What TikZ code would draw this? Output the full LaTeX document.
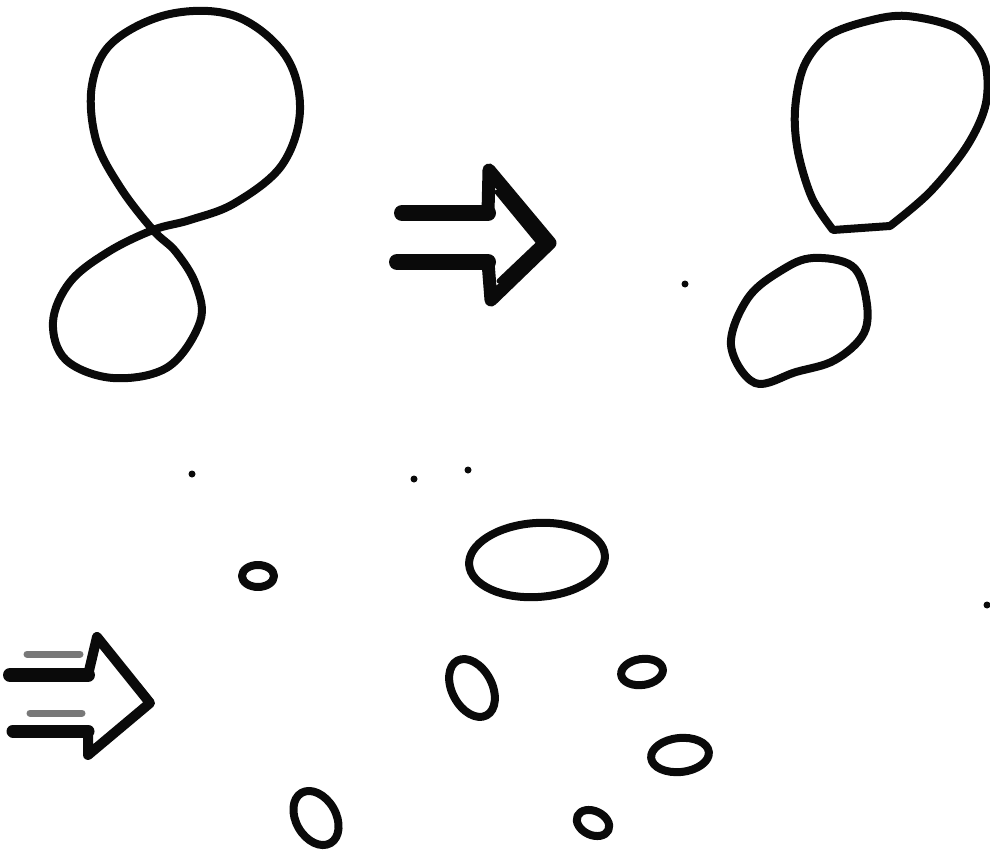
\documentclass[tikz,border=0pt]{standalone}
\usetikzlibrary{calc}
\definecolor{ink}{RGB}{10,10,10}
\definecolor{faint}{RGB}{120,120,120}
\tikzset{sketch/.style={x=1pt,y=-1pt,line join=round,line cap=round},
  pen/.style={draw=ink,line width=8pt},
  shaft/.style={draw=ink,line width=16pt},
  fshaft/.style={draw=faint,line width=7pt},
  speck/.style={fill=ink}}

\begin{document}
\begin{tikzpicture}[sketch]
    \useasboundingbox (0,0) rectangle (990,853);
    % figure eight
    \draw[pen] plot[smooth cycle,tension=0.6] coordinates {(153,230) (120,187) (96,140) (92,85) (113,42)
      (170,14) (235,16) (285,55) (300,110) (282,165) (235,203) (190,220)
      (153,230) (108,252) (70,282) (53,322) (66,360) (113,378) (168,367) (200,322) (196,285) (176,252)};
    % split loops
    \draw[pen] plot[smooth,tension=0.55] coordinates {(890,226) (930,192) (967,146) (986,103) (984,60)
      (958,29) (907,16) (868,21) (828,36) (804,66) (795,110) (798,152) (812,198) (833,230)} -- cycle;
    \draw[pen] plot[smooth cycle,tension=0.6] coordinates {(813,258) (852,266) (866,298) (864,333)
      (835,360) (796,372) (755,383) (731,345) (748,298) (782,270)};
    % arrows
    \draw[shaft] (402,213) -- (488,213);
    \draw[shaft] (397,262) -- (488,262);
    \draw[draw=ink,line width=13pt] (488,213) -- (489,170) -- (550,243) -- (491,300) -- (488,262);
    \draw[draw=ink,line width=5pt] (497,192) -- (539,243) -- (499,281);
    \draw[fshaft] (27,654) -- (80,654);
    \draw[fshaft] (30,713) -- (82,713);
    \draw[draw=ink,line width=14pt] (10,675) -- (88,675);
    \draw[draw=ink,line width=13pt] (13,731) -- (88,731);
    \draw[draw=ink,line width=10pt] (88,675) -- (97,637) -- (150,703) -- (88,755) -- (88,731);
    % pieces
    \draw[pen] (537,560) ellipse[x radius=68,y radius=37,rotate=4];
    \draw[pen] (258,576) ellipse[x radius=16,y radius=11];
    \draw[pen] (472,688) ellipse[x radius=31,y radius=20,rotate=-62];
    \draw[pen] (642,672) ellipse[x radius=21,y radius=13,rotate=8];
    \draw[pen] (680,755) ellipse[x radius=29,y radius=17,rotate=6];
    \draw[pen] (316,818) ellipse[x radius=29,y radius=20,rotate=-60];
    \draw[pen] (593,823) ellipse[x radius=17,y radius=12,rotate=-25];
    % stray dots
    \foreach \p in {(192,474),(414,479),(468,470),(685,284),(987,605)}
      \fill[speck] \p circle (3.5);
\end{tikzpicture}
\end{document}
